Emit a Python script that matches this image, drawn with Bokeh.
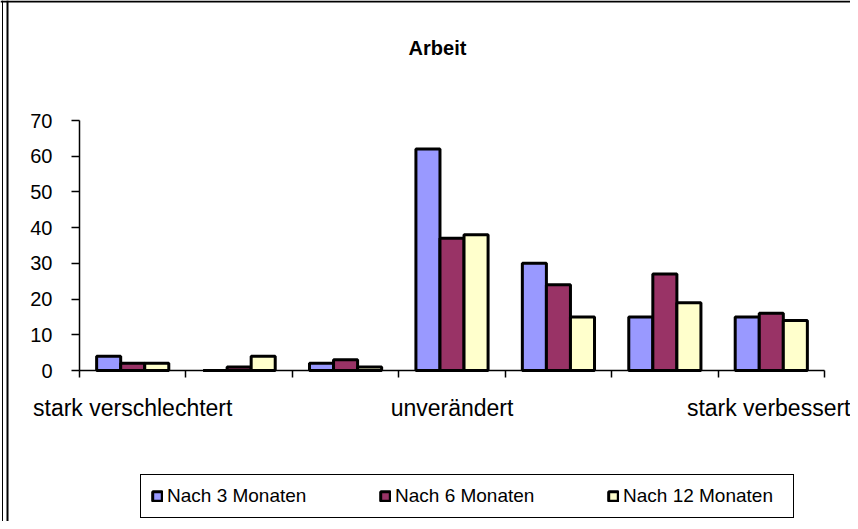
from bokeh.plotting import figure
from bokeh.models import (ColumnDataSource, Range1d, FixedTicker, Legend, LegendItem,
                          Label, Span)
from bokeh.transform import dodge
from bokeh.embed import file_html
from bokeh.resources import INLINE

categories = ["stark verschlechtert", "", "", "unverändert", "", "", "stark verbessert"]
series_names = ["Nach 3 Monaten", "Nach 6 Monaten", "Nach 12 Monaten"]
nach_3 = [4, 0, 2, 62, 30, 15, 15]
nach_6 = [2, 1, 3, 37, 24, 27, 16]
nach_12 = [2, 4, 1, 38, 15, 19, 14]
y_ticks = [0, 10, 20, 30, 40, 50, 60, 70]
colors = ["#9999FF", "#993366", "#FFFFCC"]
title_text = "Arbeit"

n_cat = len(categories)
x_pos = [i + 0.5 for i in range(n_cat)]
src = ColumnDataSource(dict(x=x_pos, s3=nach_3, s6=nach_6, s12=nach_12))

FONT = "Liberation Sans"

# canvas layout (pixels): the frame covers the whole canvas, axes sit at 0
W, H = 850, 521
AX_LEFT, AX_RIGHT = 79, 824     # x pixel of category 0 / category 7 edge
AX_TOP, AX_ZERO = 120, 370      # y pixel of value 70 / value 0
Y_MAX = 70
xs = (AX_RIGHT - AX_LEFT) / n_cat
ys = (AX_ZERO - AX_TOP) / Y_MAX
x_range = Range1d(-AX_LEFT / xs, (W - AX_LEFT) / xs)
y_range = Range1d(-(H - AX_ZERO) / ys, Y_MAX + AX_TOP / ys)

p = figure(width=W, height=H, output_backend="svg", toolbar_location=None,
           x_range=x_range, y_range=y_range,
           min_border_left=0, min_border_right=0, min_border_top=0,
           min_border_bottom=0)
p.frame_width = W
p.frame_height = H
p.title.text = ""
p.title.standoff = 0
p.title.visible = False

bw = 0.226
renderers = []
for field, off, col in zip(["s3", "s6", "s12"], [-bw, 0, bw], colors):
    r = p.vbar(x=dodge("x", off, range=p.x_range), top=field, bottom=0, width=bw,
               source=src, fill_color=col, line_color="black", line_width=3)
    renderers.append(r)

p.xgrid.visible = False
p.ygrid.visible = False
p.outline_line_color = None
p.background_fill_color = "white"
p.border_fill_color = "white"

# x axis (at y = 0)
xa = p.xaxis[0]
xa.fixed_location = 0
xa.bounds = (0, n_cat)
xa.ticker = FixedTicker(ticks=[x_pos[0], x_pos[3], x_pos[6]],
                        minor_ticks=list(range(n_cat + 1)))
xa.major_label_overrides = {x_pos[0]: categories[0], x_pos[3]: categories[3],
                            x_pos[6]: categories[6]}
xa.major_tick_out = 0
xa.major_tick_in = 0
xa.minor_tick_out = 7
xa.minor_tick_in = 0
xa.minor_tick_line_color = "black"
xa.minor_tick_line_width = 1.5
xa.axis_line_color = "black"
xa.axis_line_width = 1.5
xa.major_label_text_font = FONT
xa.major_label_text_font_size = "23px"
xa.major_label_text_color = "black"
xa.major_label_standoff = 17

# y axis (at x = 0)
ya = p.yaxis[0]
ya.fixed_location = 0
ya.bounds = (0, Y_MAX)
ya.ticker = FixedTicker(ticks=y_ticks)
ya.major_tick_out = 8
ya.major_tick_in = 0
ya.minor_tick_out = 0
ya.minor_tick_in = 0
ya.major_tick_line_color = "black"
ya.major_tick_line_width = 1.5
ya.axis_line_color = "black"
ya.axis_line_width = 1.5
ya.major_label_text_font = FONT
ya.major_label_text_font_size = "20px"
ya.major_label_text_color = "black"
ya.major_label_standoff = 19

# chart title
p.add_layout(Label(x=437, y=H - 47, x_units="screen", y_units="screen",
                   text=title_text, text_font=FONT, text_font_size="20px",
                   text_font_style="bold", text_color="black",
                   text_align="center", text_baseline="alphabetic"))

# chart-area border (double line on the left, single on top)
p.add_layout(Span(location=2, location_units="screen", dimension="height",
                  line_color="black", line_width=1))
p.add_layout(Span(location=7, location_units="screen", dimension="height",
                  line_color="black", line_width=2))
p.add_layout(Span(location=H - 1, location_units="screen", dimension="width",
                  line_color="black", line_width=2))

legend = Legend(items=[LegendItem(label=n, renderers=[r]) for n, r in zip(series_names, renderers)],
                orientation="horizontal", location=(140, 3),
                border_line_color="black", border_line_width=1.5, border_line_alpha=1,
                padding=10, spacing=52, glyph_width=12, glyph_height=12,
                label_standoff=4, label_width=160, label_text_font=FONT,
                label_text_font_size="19px", label_text_color="black",
                background_fill_color="white", background_fill_alpha=1, margin=0)
p.add_layout(legend)

open("out.html", "w").write(file_html(p, INLINE))
